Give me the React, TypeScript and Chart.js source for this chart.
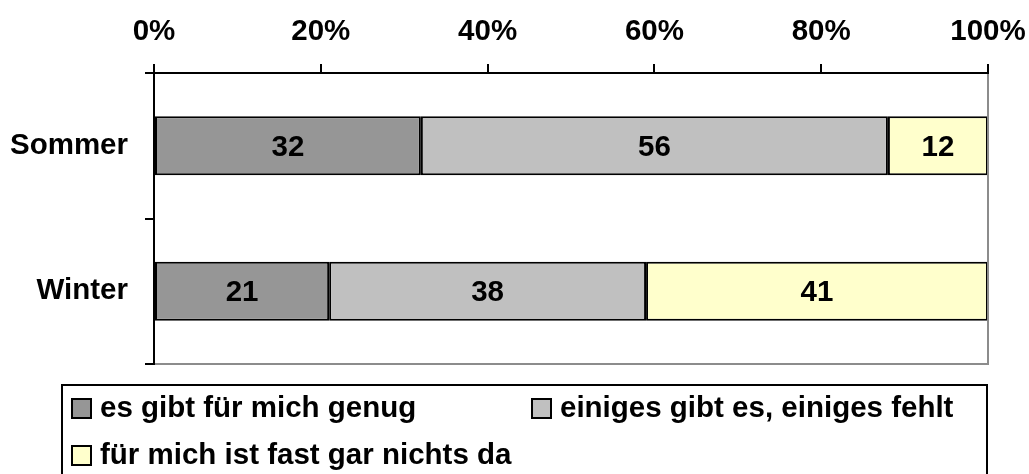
import React, { useEffect, useRef } from "react";
import { Chart, registerables } from "chart.js";

Chart.register(...registerables);

const categories = ["Sommer", "Winter"];
const seriesNames = [
  "es gibt für mich genug",
  "einiges gibt es, einiges fehlt",
  "für mich ist fast gar nichts da",
];
const genug = [32, 21];
const einiges = [56, 38];
const nichts = [12, 41];
const seriesColors = ["#969696", "#C0C0C0", "#FFFFCC"];
const tickValues = [0, 20, 40, 60, 80, 100];

const FONT = '"Liberation Sans", Arial, sans-serif';
const FS = 29.5;

const dataLabelPlugin = {
  id: "dataLabels",
  afterDatasetsDraw(chart: any) {
    const ctx = chart.ctx;
    ctx.save();
    ctx.font = `bold ${FS}px ${FONT}`;
    ctx.fillStyle = "#000";
    ctx.textAlign = "center";
    ctx.textBaseline = "middle";
    chart.data.datasets.forEach((ds: any, di: number) => {
      const meta = chart.getDatasetMeta(di);
      meta.data.forEach((el: any, i: number) => {
        const cx = (el.x + el.base) / 2;
        ctx.fillText(String(ds.data[i]), cx, el.y + 2);
      });
    });
    ctx.restore();
  },
};

const framePlugin = {
  id: "frame",
  afterDraw(chart: any) {
    const { ctx, chartArea } = chart;
    ctx.save();
    ctx.strokeStyle = "#8c8c8c";
    ctx.lineWidth = 2;
    ctx.beginPath();
    ctx.moveTo(chartArea.right, chartArea.top + 1);
    ctx.lineTo(chartArea.right, chartArea.bottom);
    ctx.lineTo(chartArea.left + 1, chartArea.bottom);
    ctx.stroke();
    ctx.restore();
  },
};

const legendBoxPlugin = {
  id: "legendBox",
  afterDraw(chart: any) {
    const ctx = chart.ctx;
    ctx.save();
    ctx.strokeStyle = "#000";
    ctx.lineWidth = 2;
    ctx.strokeRect(62, 385, 925, 110);
    const items = [
      { x: 72, y: 399 },
      { x: 532, y: 399 },
      { x: 72, y: 446 },
    ];
    ctx.font = `bold ${FS}px ${FONT}`;
    ctx.textAlign = "left";
    ctx.textBaseline = "middle";
    chart.data.datasets.forEach((ds: any, i: number) => {
      const it = items[i];
      ctx.fillStyle = ds.backgroundColor;
      ctx.fillRect(it.x, it.y, 19, 19);
      ctx.lineWidth = 2;
      ctx.strokeStyle = "#000";
      ctx.strokeRect(it.x, it.y, 19, 19);
      ctx.fillStyle = "#000";
      ctx.fillText(ds.label, it.x + 28, it.y + 10);
    });
    ctx.restore();
  },
};

export default function App() {
  const ref = useRef<HTMLCanvasElement>(null);
  useEffect(() => {
    if (!ref.current) return;
    const values = [genug, einiges, nichts];
    const chart = new Chart(ref.current, {
      type: "bar",
      data: {
        labels: categories,
        datasets: values.map((v, i) => ({
          label: seriesNames[i],
          data: v,
          backgroundColor: seriesColors[i],
          borderColor: "#000",
          borderWidth: 2,
          borderSkipped: false,
          categoryPercentage: 1,
          barPercentage: 0.405,
        })),
      },
      options: {
        indexAxis: "y",
        animation: false,
        responsive: true,
        maintainAspectRatio: false,
        layout: { padding: { left: 0, right: 41, top: 0, bottom: 110 } },
        plugins: {
          legend: { display: false },
          tooltip: { enabled: false },
        },
        scales: {
          x: {
            position: "top",
            stacked: true,
            min: 0,
            max: 100,
            afterFit: (s: any) => {
              s.height = 73;
              s.paddingLeft = 0;
              s.paddingRight = 0;
            },
            afterBuildTicks: (s: any) => {
              s.ticks = tickValues.map((v) => ({ value: v }));
            },
            ticks: {
              callback: (v: any) => `${v}%`,
              color: "#000",
              font: { family: FONT, size: FS, weight: "bold" },
              padding: 14,
              maxRotation: 0,
            },
            grid: {
              drawOnChartArea: false,
              drawTicks: true,
              tickLength: 9,
              color: "#000",
              lineWidth: 2,
            },
            border: { color: "#000", width: 2 },
          },
          y: {
            stacked: true,
            afterFit: (s: any) => {
              s.width = 154;
              s.paddingTop = 0;
              s.paddingBottom = 0;
            },
            ticks: {
              color: "#000",
              font: { family: FONT, size: FS, weight: "bold" },
              padding: 17,
            },
            grid: {
              drawOnChartArea: false,
              drawTicks: true,
              tickLength: 9,
              color: "#000",
              lineWidth: 2,
              offset: true,
            },
            border: { color: "#000", width: 2 },
          },
        },
      },
      plugins: [dataLabelPlugin, framePlugin, legendBoxPlugin],
    } as any);
    return () => chart.destroy();
  }, []);
  return (
    <div style={{ position: "fixed", left: 0, top: 0, width: 1029, height: 474, background: "#fff" }}>
      <canvas ref={ref} />
    </div>
  );
}
